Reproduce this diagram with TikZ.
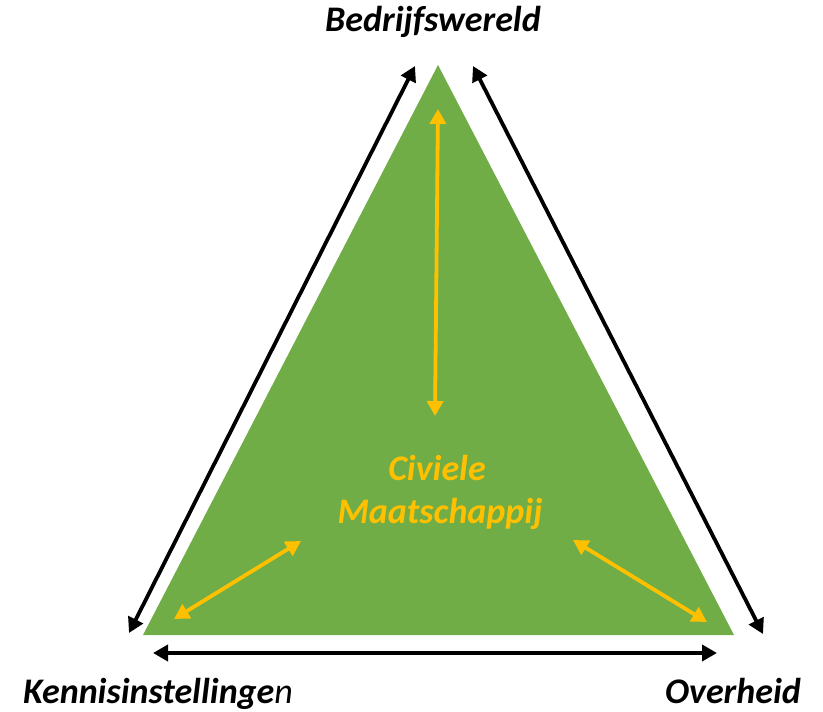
\documentclass[tikz,border=0pt]{standalone}
\usepackage{fontspec}
\setmainfont{Carlito}
\usetikzlibrary{arrows.meta}
\definecolor{tgreen}{HTML}{70AD47}
\definecolor{tyellow}{HTML}{FFC000}
\tikzset{
  blackarr/.style={line width=3.8pt, black, {Triangle[length=15pt,width=16pt]}-{Triangle[length=15pt,width=16pt]}},
  yellowarr/.style={line width=3.8pt, tyellow, {Triangle[length=15pt,width=16pt]}-{Triangle[length=15pt,width=16pt]}},
  lbl/.style={font=\fontsize{36}{40}\selectfont\bfseries\itshape, inner sep=0pt, anchor=base},
}
\begin{document}
\begin{tikzpicture}[x=1pt,y=-1pt]
\useasboundingbox (0,0) rectangle (823,712);
% triangle
\coordinate (apex) at (438,65);
\coordinate (bl) at (143,635);
\coordinate (br) at (734,635);
\fill[tgreen] (apex) -- (bl) -- (br) -- cycle;
% black arrow endpoints
\coordinate (l1) at (129,633);
\coordinate (l2) at (415,66);
\coordinate (r1) at (473,66);
\coordinate (r2) at (763,634);
\coordinate (b1) at (153,653);
\coordinate (b2) at (717,653);
\draw[blackarr] (l1) -- (l2);
\draw[blackarr] (r1) -- (r2);
\draw[blackarr] (b1) -- (b2);
% yellow arrow endpoints
\coordinate (v1) at (438,109);
\coordinate (v2) at (435,416);
\coordinate (y1) at (174,619);
\coordinate (y2) at (301,541);
\coordinate (z1) at (573,540);
\coordinate (z2) at (707,622);
\draw[yellowarr] (v1) -- (v2);
\draw[yellowarr] (y1) -- (y2);
\draw[yellowarr] (z1) -- (z2);
% labels
\node[lbl] (bw) at (433,31) {Bedrijfswereld};
\node[lbl] (ki) at (158,703) {Kennisinstellinge{\mdseries n}};
\node[lbl] (oh) at (733,703) {Overheid};
\node[lbl, text=tyellow] (cv) at (437,480) {Civiele};
\node[lbl, text=tyellow] (mt) at (440,523) {Maatschappij};
\end{tikzpicture}
\end{document}
